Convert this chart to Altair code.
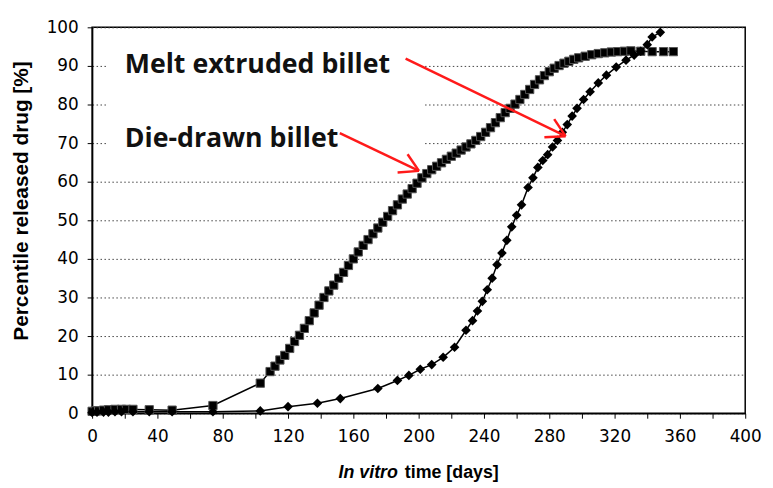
import altair as alt
import pandas as pd

# Die-drawn billet (squares)
dd_days = [0, 2, 4, 7, 10, 14, 18, 21, 25, 35, 49, 74, 103, 109, 112, 115, 118, 121, 124, 127,
           130, 133, 136, 139, 142, 145, 148, 151, 154, 157, 160, 163, 166, 169, 172, 175, 178,
           181, 184, 187, 190, 193, 196, 199, 202, 205, 208, 211, 214, 217, 220, 223, 226, 229,
           232, 235, 238, 241, 244, 247, 250, 253, 256, 259, 262, 265, 268, 271, 274, 277, 280,
           283, 286, 289, 292, 295, 298, 302, 306, 310, 314, 318, 322, 326, 330, 336, 343, 350, 356]
dd_pct = [0.5, 0.6, 0.6, 0.8, 0.9, 1.0, 1.0, 1.0, 1.0, 0.9, 0.8, 2.0, 7.8, 10.8, 12.2, 13.8, 15.0,
          16.8, 18.6, 20.2, 22.0, 24.0, 26.0, 28.0, 30.0, 31.7, 33.2, 35.0, 36.5, 38.3, 40.0, 41.8,
          43.5, 45.0, 46.5, 48.0, 49.5, 51.0, 52.5, 54.0, 55.5, 56.8, 58.2, 59.6, 61.0, 62.1, 63.1,
          64.0, 64.9, 65.8, 66.6, 67.4, 68.2, 69.0, 69.8, 70.7, 71.7, 72.8, 74.0, 75.3, 76.6, 77.9,
          79.0, 80.1, 81.3, 82.6, 83.9, 85.2, 86.4, 87.5, 88.5, 89.4, 90.1, 90.7, 91.2, 91.7, 92.1,
          92.5, 92.9, 93.2, 93.4, 93.6, 93.7, 93.8, 93.9, 93.8, 93.7, 93.7, 93.7]

# Melt extruded billet (diamonds)
me_days = [0, 3, 7, 10, 14, 18, 25, 35, 49, 74, 103, 120, 138, 152, 175, 187, 194, 201, 208, 215,
           222, 229, 233, 236, 239, 242, 245, 248, 251, 254, 257, 260, 263, 267, 270, 273, 276, 279,
           282, 285, 288, 291, 294, 297, 301, 305, 310, 315, 321, 327, 332, 336, 340, 343, 348]
me_pct = [0.2, 0.3, 0.3, 0.3, 0.4, 0.4, 0.4, 0.4, 0.4, 0.4, 0.6, 1.7, 2.6, 3.8, 6.4, 8.5, 9.8, 11.4,
          12.6, 14.5, 17.1, 21.5, 24.0, 26.5, 29.0, 32.0, 35.0, 38.5, 41.5, 44.8, 48.3, 51.3, 54.0,
          58.5, 61.0, 63.7, 65.5, 67.0, 69.0, 70.7, 72.8, 74.8, 77.0, 79.0, 81.3, 83.3, 85.6, 87.6,
          89.7, 91.5, 92.8, 93.8, 95.5, 97.5, 98.7]

x_ticks = list(range(0, 401, 20))
y_ticks = list(range(0, 101, 10))

# annotations
labels = ["Melt extruded billet", "Die-drawn billet"]
label_x = [20, 20]
label_y = [90.3, 71]
arrow_x = [192, 290, 290, 151.7, 200.2, 200.2]
arrow_y = [91.9, 71.8, 71.8, 72.6, 62.8, 62.8]
arrow_x2 = [290, 283, 277, 200.2, 193.2, 187.1]
arrow_y2 = [71.8, 76.2, 71.5, 62.8, 67.1, 62.4]
box_x, box_x2, box_y, box_y2 = [8.5], [203], [65], [96.5]
xtitle_parts = ["In vitro", "time [days]"]

dd = pd.DataFrame({"days": dd_days, "pct": dd_pct})
me = pd.DataFrame({"days": me_days, "pct": me_pct})
lab = pd.DataFrame({"days": label_x, "pct": label_y, "t": labels})
arr = pd.DataFrame({"days": arrow_x, "pct": arrow_y, "x2": arrow_x2, "y2": arrow_y2})
box = pd.DataFrame({"days": box_x, "x2": box_x2, "pct": box_y, "y2": box_y2})

xs = alt.Scale(domain=[0, 400], nice=False)
ys = alt.Scale(domain=[0, 100], nice=False)

xaxis = alt.Axis(values=x_ticks, labelExpr="datum.value % 40 == 0 ? datum.label : ''",
                 title=None, grid=False, tickSize=5, labelPadding=11, labelFlush=False,
                 labelOverlap=False, labelBound=False,
                 labelFont="DejaVu Sans", labelFontSize=17, labelColor="black",
                 domainColor="black", tickColor="black", domainWidth=1.5)
yaxis = alt.Axis(values=y_ticks, title="Percentile released drug [%]", grid=True,
                 gridDash=[1.5, 2.5], gridColor="#444", gridWidth=1, tickSize=5, labelPadding=9,
                 labelOverlap=False, labelBound=False,
                 labelFont="DejaVu Sans", labelFontSize=17, labelColor="black",
                 domainColor="black", tickColor="black", domainWidth=1.5,
                 titleFont="Liberation Sans", titleFontWeight="bold", titleFontSize=21,
                 titleColor="black", titleX=-71, titleY=175, titleBaseline="middle",
                 titleAngle=270)

X = alt.X("days:Q", scale=xs, axis=xaxis)
Y = alt.Y("pct:Q", scale=ys, axis=yaxis)

box_l = alt.Chart(box).mark_rect(fill="white").encode(x=X, x2="x2:Q", y=Y, y2="y2:Q")

dd_line = alt.Chart(dd).mark_line(color="black", strokeWidth=1.5).encode(x=X, y=Y)
dd_pts = alt.Chart(dd).mark_point(shape="square", filled=True, size=70, color="black",
                                  stroke="#555", strokeWidth=1, opacity=1).encode(x=X, y=Y)
me_line = alt.Chart(me).mark_line(color="black", strokeWidth=1.5).encode(x=X, y=Y)
me_pts = alt.Chart(me).mark_point(shape="diamond", filled=True, size=95, color="black",
                                  opacity=1).encode(x=X, y=Y)

arrows = alt.Chart(arr).mark_rule(color="#ff1a1a", strokeWidth=2.5).encode(
    x=X, y=Y, x2="x2:Q", y2="y2:Q")

texts = alt.Chart(lab).mark_text(align="left", baseline="middle", font="Open Sans",
                                 fontWeight="bold", fontSize=27, color="#111").encode(
    x=X, y=Y, text="t:N")

xt1 = alt.Chart(pd.DataFrame({"t": [xtitle_parts[0]]})).mark_text(
    align="right", baseline="alphabetic", font="Liberation Sans", fontWeight="bold",
    fontStyle="italic", fontSize=18, color="black").encode(
    x=alt.value(309), y=alt.value(455), text="t:N")
xt2 = alt.Chart(pd.DataFrame({"t": [xtitle_parts[1]]})).mark_text(
    align="left", baseline="alphabetic", font="Liberation Sans", fontWeight="bold",
    fontSize=18, color="black").encode(
    x=alt.value(316), y=alt.value(455), text="t:N")

chart = alt.layer(box_l, dd_line, me_line, dd_pts, me_pts, arrows, texts, xt1, xt2).properties(
    width=660, height=390,
    background="white",
    autosize=alt.AutoSizeParams(type="none"),
    padding={"left": 85, "top": 17, "right": 20, "bottom": 72},
).configure_view(stroke="black", strokeWidth=1.5)

chart.save("out.html", embed_options={"renderer": "svg", "actions": False})
